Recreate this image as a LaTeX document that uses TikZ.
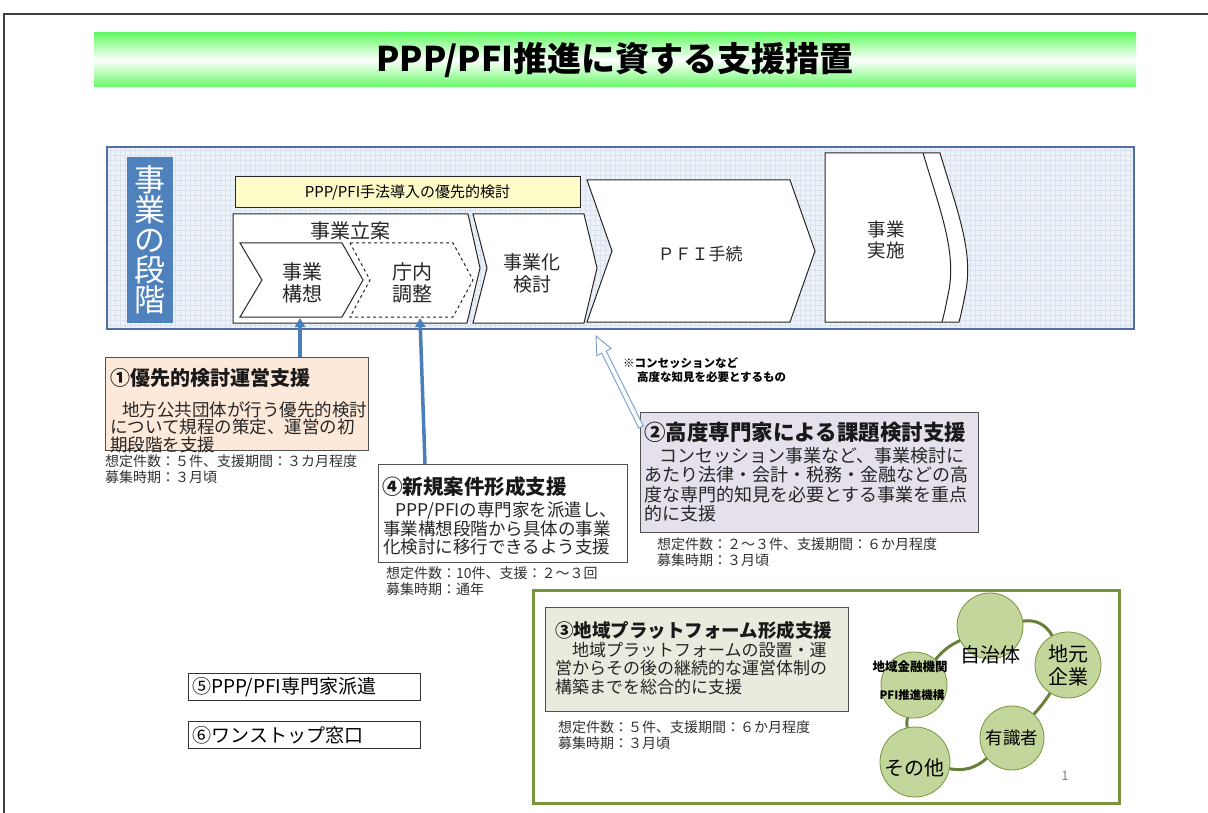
\documentclass[tikz,border=0pt]{standalone}
\usepackage{fontspec}
\setmainfont{Noto Sans CJK JP}
\usetikzlibrary{calc,arrows.meta,shapes.geometric}
\definecolor{tgreen}{RGB}{102,250,102}
\definecolor{panelblue}{RGB}{79,111,165}
\definecolor{panelfill}{RGB}{237,241,248}
\definecolor{gridcol}{RGB}{218,226,240}
\definecolor{labelblue}{RGB}{79,129,189}
\definecolor{yel}{RGB}{253,251,200}
\definecolor{peach}{RGB}{253,233,217}
\definecolor{lav}{RGB}{229,224,236}
\definecolor{grayg}{RGB}{232,236,222}
\definecolor{olive}{RGB}{119,147,60}
\definecolor{ringcol}{RGB}{105,128,58}
\definecolor{cfill}{RGB}{195,214,155}
\definecolor{arrowblue}{RGB}{74,126,187}
\definecolor{hollowblue}{RGB}{120,155,205}
\definecolor{boxgray}{RGB}{80,80,80}
\definecolor{metagray}{RGB}{50,50,50}
\newcommand{\myfs}[2]{\fontsize{#1}{#2}\selectfont}
\begin{document}
\begin{tikzpicture}[x=1pt,y=-1pt,
  stageshape/.style={draw=black!85, fill=white, line width=1pt},
  stagetext/.style={align=center, inner sep=0, text=black!85},
  infobox/.style={draw=boxgray, line width=1.2pt, inner sep=0, anchor=north west},
  titletext/.style={anchor=north west, inner sep=0, font=\bfseries, text=black!90},
  bodytext/.style={anchor=north west, inner sep=0, align=left, text=black!85},
  metatext/.style={anchor=north west, inner sep=0, align=left, text=metagray, font=\myfs{14}{15.2}},
  bluearr/.style={draw=arrowblue, line width=3.5pt, -{Triangle[length=9pt,width=10pt]}},
  hollowarr/.style={draw=hollowblue, line width=0.9pt, fill=white, line join=miter},
  circ/.style={circle, fill=cfill, draw=olive, line width=0.8pt, inner sep=0},
  ring/.style={draw=ringcol, line width=3pt},
  btn/.style={draw=black!80, line width=1pt, minimum width=232pt, minimum height=27pt, text width=224pt, align=left, inner xsep=4pt, inner ysep=0, anchor=north west, font=\myfs{19}{19}}
]
\useasboundingbox (0,0) rectangle (1208,813);
\fill[white] (0,0) rectangle (1208,813);
% slide frame
\draw[black!75, line width=1.5pt] (4,813) -- (4,14) -- (1208,14);
% title bar
\shade[top color=tgreen, bottom color=tgreen, middle color=white] (94,33) rectangle (1136,87);
\node[inner sep=0, font=\myfs{34}{34}\bfseries] (title) at (615,60) {PPP/PFI推進に資する支援措置};
% stage panel
\fill[panelfill] (107,147) rectangle (1134,329);
\draw[gridcol, line width=0.3pt, step=5pt] (107,147) grid (1134,329);
\draw[panelblue, line width=2.5pt] (107,147) rectangle (1134,329);
\node[fill=labelblue, text=white, minimum width=46pt, minimum height=166pt, inner sep=0, align=center, font=\myfs{31}{30}] (stagelbl) at (149.5,240) {事\\業\\の\\段\\階};
\node[draw=black!85, line width=1pt, fill=yel, minimum width=345pt, minimum height=31pt, inner sep=0, font=\myfs{15}{15}] (yelbox) at (407.5,192.5) {PPP/PFI手法導入の優先的検討};
% stage shapes
\filldraw[stageshape] (233,214) -- (468,214) -- (480,268) -- (467,323) -- (233,323) -- cycle;
\node[stagetext, font=\myfs{20}{20}] (ritsuan) at (350,231) {事業立案};
\filldraw[stageshape] (240,243) -- (342,243) -- (363,280) -- (342,317) -- (240,317) -- (262,280) -- cycle;
\node[stagetext, font=\myfs{20}{22}] (kousou) at (302,283) {事業\\構想};
\filldraw[stageshape, dashed] (350,243) -- (453,243) -- (473,280) -- (453,317) -- (350,317) -- (370,280) -- cycle;
\node[stagetext, font=\myfs{20}{22}] (chousei) at (412,283) {庁内\\調整};
\filldraw[stageshape] (473,214) -- (584,214) -- (597,268) -- (584,323) -- (473,323) -- (487,268) -- cycle;
\node[stagetext, font=\myfs{19}{22}] (jigyoka) at (532,273) {事業化\\検討};
\filldraw[stageshape] (587,180) -- (790,180) -- (815,251) -- (790,322) -- (587,322) -- (612,251) -- cycle;
\node[stagetext, font=\myfs{17}{17}] (pfi) at (700,254) {ＰＦＩ手続};
\filldraw[stageshape] (825,153) -- (940,153) .. controls (957,210) and (973,250) .. (966,290) .. controls (963,305) and (961,315) .. (959,322) -- (825,322) -- cycle;
\draw[stageshape, fill=none] (923,153) .. controls (940,210) and (956,250) .. (949,290) .. controls (946,305) and (944,315) .. (942,322);
\node[stagetext, font=\myfs{18.5}{21}] (jisshi) at (886,240) {事業\\実施};
\coordinate (kousoub) at (300,318);
\coordinate (chouseib) at (420,318);
% box 1
\node[infobox, fill=peach, minimum width=263pt, minimum height=93pt] (box1) at (105,357) {};
\node[titletext, font=\myfs{20}{20}\bfseries] (b1t) at (110,368) {①優先的検討運営支援};
\node[bodytext, font=\myfs{17.5}{17.5}] (b1b) at (110,401) {\hspace*{0.7em}地方公共団体が行う優先的検討\\について規程の策定、運営の初\\期段階を支援};
\node[metatext] (b1m) at (105,455) {想定件数：５件、支援期間：３カ月程度\\募集時期：３月頃};
% box 4
\node[infobox, fill=white, minimum width=249pt, minimum height=98pt] (box4) at (378,464) {};
\node[titletext, font=\myfs{20.5}{20.5}\bfseries] (b4t) at (382,476) {④新規案件形成支援};
\node[bodytext, font=\myfs{17.5}{17.5}] (b4b) at (383,502) {\hspace*{0.7em}PPP/PFIの専門家を派遣し、\\事業構想段階から具体の事業\\化検討に移行できるよう支援};
\node[metatext] (b4m) at (386,567) {想定件数：10件、支援：２～３回\\募集時期：通年};
% box 2
\node[infobox, fill=lav, minimum width=338pt, minimum height=120pt] (box2) at (640,412) {};
\node[titletext, font=\myfs{21.5}{21.5}\bfseries] (b2t) at (644,422) {②高度専門家による課題検討支援};
\node[bodytext, font=\myfs{18}{19.5}] (b2b) at (644,447) {\hspace*{0.85em}コンセッション事業など、事業検討に\\あたり法律・会計・税務・金融などの高\\度な専門的知見を必要とする事業を重点\\的に支援};
\node[metatext] (b2m) at (657,538) {想定件数：２～３件、支援期間：６か月程度\\募集時期：３月頃};
\node[anchor=north west, inner sep=0, align=left, font=\myfs{11.5}{14.5}\bfseries] (note) at (623,357) {※コンセッションなど\\\hspace*{1.2em}高度な知見を必要とするもの};
% arrows
\draw[bluearr] (box1.north -| kousoub) -- (kousoub);
\coordinate (a2s) at ($(box4.north west)+(47,0)$);
\draw[bluearr] (a2s) -- (chouseib);
\coordinate (hs) at ($(box2.north west)+(1,15)$);
\coordinate (ht) at (596,336);
\coordinate (hh) at ($(ht)!18pt!(hs)$);
\filldraw[hollowarr] ($(hs)!2.5pt!90:(ht)$) -- ($(hh)!2.5pt!90:(ht)$) -- ($(hh)!8pt!90:(ht)$) -- (ht) -- ($(hh)!8pt!-90:(ht)$) -- ($(hh)!2.5pt!-90:(ht)$) -- ($(hs)!2.5pt!-90:(ht)$) -- cycle;
% box 3 area
\draw[olive, line width=3pt, fill=white] (533,590) rectangle (1119,803);
\node[infobox, fill=grayg, minimum width=303pt, minimum height=104pt] (box3) at (545,607) {};
\node[titletext, font=\myfs{18.5}{18.5}\bfseries] (b3t) at (555,621) {③地域プラットフォーム形成支援};
\node[bodytext, font=\myfs{17}{18.5}] (b3b) at (555,642) {\hspace*{1em}地域プラットフォームの設置・運\\営からその後の継続的な運営体制の\\構築までを総合的に支援};
\node[metatext] (b3m) at (558,721) {想定件数：５件、支援期間：６か月程度\\募集時期：３月頃};
% circles
\node[circ, minimum size=66pt] (jichi) at (990,626) {};
\node[circ, minimum size=66pt, align=center, font=\myfs{20}{23}] (jimoto) at (1068,665) {地元\\企業};
\node[circ, minimum size=64pt, font=\myfs{17.5}{17.5}] (yushiki) at (1012,738) {有識者};
\node[circ, minimum size=70pt] (sonota) at (915,762) {};
\node[circ, minimum size=66pt] (kinyu) at (914,685) {};
\draw[ring] (kinyu) to[bend left=12] (jichi);
\draw[ring] (jichi) to[bend left=35] (jimoto);
\draw[ring] (jimoto) to[bend left=5] (yushiki);
\draw[ring] (yushiki) to[bend left=25] (sonota);
\draw[ring] (sonota) to[bend left=12] (kinyu);
\node[inner sep=0, font=\myfs{20}{20}] (jichit) at (990,655) {自治体};
\node[inner sep=0, font=\myfs{20}{20}] (sonotat) at (914,768) {その他};
\node[inner sep=0, font=\myfs{12.5}{12.5}\bfseries] (kinyut) at (910,667) {地域金融機関};
\node[inner sep=0, font=\myfs{11.5}{11.5}\bfseries] (pfit) at (912,695) {PFI推進機構};
\node[inner sep=0, text=black!50, font=\myfs{13}{13}] (pageno) at (1065,776) {1};
% buttons
\node[btn] (btn5) at (188,673) {⑤PPP/PFI専門家派遣};
\node[btn] (btn6) at (188,721) {⑥ワンストップ窓口};
\end{tikzpicture}
\end{document}
